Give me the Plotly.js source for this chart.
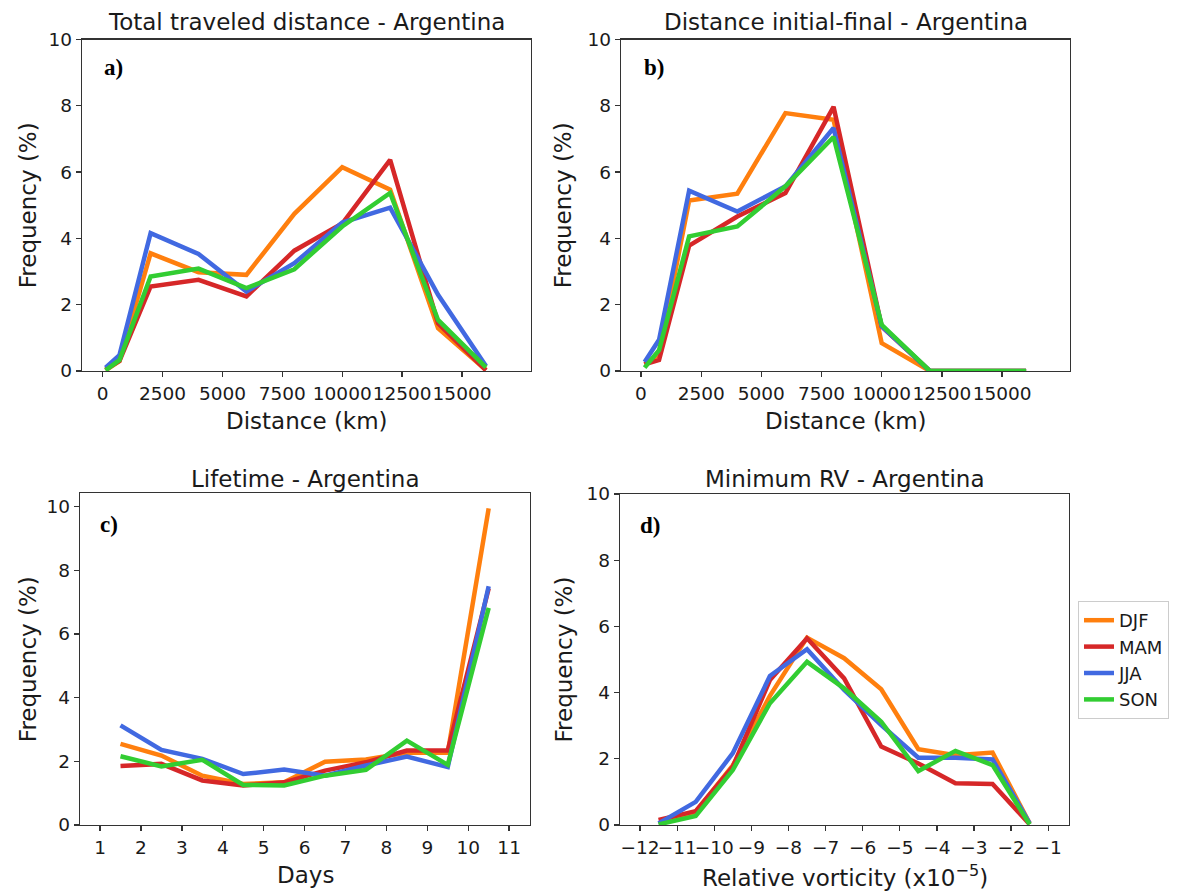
<!DOCTYPE html>
<html>
<head>
<meta charset="utf-8">
<script src="https://cdn.plot.ly/plotly-3.0.1.min.js"></script>
<style>html,body{margin:0;padding:0;background:#fff;}#chart{width:1197px;height:894px;}</style>
</head>
<body>
<div id="chart"></div>
<script>
// ---------- data ----------
const seasons = ["DJF", "MAM", "JJA", "SON"];
const seasonColors = ["#ff7f0e", "#d62728", "#4169e1", "#32cd32"];

// a) Total traveled distance (km)
const distTotalX = [120, 700, 2000, 4000, 6000, 8000, 10000, 12000, 14000, 16000];
const distTotalDJF = [0.02, 0.30, 3.55, 2.98, 2.90, 4.74, 6.15, 5.47, 1.29, 0.03];
const distTotalMAM = [0.05, 0.30, 2.55, 2.75, 2.25, 3.63, 4.45, 6.37, 1.44, 0.02];
const distTotalJJA = [0.10, 0.48, 4.16, 3.53, 2.40, 3.25, 4.48, 4.93, 2.30, 0.15];
const distTotalSON = [0.02, 0.33, 2.85, 3.09, 2.50, 3.07, 4.36, 5.37, 1.54, 0.11];

// b) Distance initial-final (km)
const distIFX = [150, 750, 2000, 4000, 6000, 8000, 10000, 12000, 14000, 16000];
const distIFDJF = [0.20, 0.50, 5.14, 5.35, 7.78, 7.58, 0.84, 0.00, 0.00, 0.00];
const distIFMAM = [0.20, 0.33, 3.78, 4.66, 5.37, 7.97, 1.34, 0.00, 0.00, 0.00];
const distIFJJA = [0.27, 0.94, 5.44, 4.81, 5.57, 7.33, 1.35, 0.00, 0.00, 0.00];
const distIFSON = [0.10, 0.63, 4.06, 4.36, 5.57, 7.06, 1.39, 0.00, 0.00, 0.00];

// c) Lifetime (days)
const lifeX = [1.5, 2.5, 3.5, 4.5, 5.5, 6.5, 7.5, 8.5, 9.5, 10.5];
const lifeDJF = [2.55, 2.18, 1.55, 1.29, 1.34, 1.99, 2.06, 2.27, 2.27, 9.95];
const lifeMAM = [1.85, 1.92, 1.40, 1.24, 1.34, 1.71, 1.97, 2.34, 2.34, 7.43];
const lifeJJA = [3.13, 2.36, 2.08, 1.60, 1.74, 1.55, 1.87, 2.15, 1.82, 7.50];
const lifeSON = [2.16, 1.84, 2.05, 1.26, 1.24, 1.55, 1.73, 2.65, 1.89, 6.82];

// d) Minimum relative vorticity (x10^-5)
const rvX = [-11.5, -10.5, -9.5, -8.5, -7.5, -6.5, -5.5, -4.5, -3.5, -2.5, -1.5];
const rvDJF = [0.05, 0.40, 1.80, 3.90, 5.66, 5.04, 4.10, 2.29, 2.11, 2.19, 0.05];
const rvMAM = [0.15, 0.42, 1.76, 4.38, 5.64, 4.43, 2.37, 1.86, 1.26, 1.24, 0.02];
const rvJJA = [0.05, 0.70, 2.17, 4.50, 5.31, 4.08, 3.02, 2.03, 2.03, 1.98, 0.05];
const rvSON = [0.02, 0.27, 1.66, 3.68, 4.93, 4.13, 3.12, 1.63, 2.24, 1.81, 0.02];

// ticks
const distTickVals = [0, 2500, 5000, 7500, 10000, 12500, 15000];
const distTickText = ["0", "2500", "5000", "7500", "10000", "12500", "15000"];
const dayTickVals = [1, 2, 3, 4, 5, 6, 7, 8, 9, 10, 11];
const dayTickText = ["1", "2", "3", "4", "5", "6", "7", "8", "9", "10", "11"];
const rvTickVals = [-12, -11, -10, -9, -8, -7, -6, -5, -4, -3, -2, -1];
const rvTickText = ["\u221212", "\u221211", "\u221210", "\u22129", "\u22128", "\u22127", "\u22126", "\u22125", "\u22124", "\u22123", "\u22122", "\u22121"];
const freqTickVals = [0, 2, 4, 6, 8, 10];
const freqTickText = ["0", "2", "4", "6", "8", "10"];

// ---------- build ----------
const W = 1197, H = 894;
const px = v => v / W;
const py = v => 1 - v / H;

const panels = [
  {x: distTotalX, ys: [distTotalDJF, distTotalMAM, distTotalJJA, distTotalSON], xa: "x", ya: "y"},
  {x: distIFX, ys: [distIFDJF, distIFMAM, distIFJJA, distIFSON], xa: "x2", ya: "y2"},
  {x: lifeX, ys: [lifeDJF, lifeMAM, lifeJJA, lifeSON], xa: "x3", ya: "y3"},
  {x: rvX, ys: [rvDJF, rvMAM, rvJJA, rvSON], xa: "x4", ya: "y4"}
];

const traces = [];
panels.forEach((p, pi) => {
  p.ys.forEach((y, si) => {
    traces.push({
      type: "scatter", mode: "lines",
      x: p.x, y: y, xaxis: p.xa, yaxis: p.ya,
      name: seasons[si], showlegend: pi === 3,
      line: {color: seasonColors[si], width: 4.5},
      hoverinfo: "skip"
    });
  });
});

const FONT = "DejaVu Sans, Verdana, sans-serif";
const TXT = "#1a1a1a";
const axBase = {
  showline: true, mirror: true, linecolor: "#333", linewidth: 1.3,
  ticks: "outside", ticklen: 5, tickwidth: 1.3, tickcolor: "#333",
  showgrid: false, zeroline: false, tickmode: "array", tickangle: 0,
  tickfont: {family: FONT, size: 18.5, color: TXT}, fixedrange: true
};
const mk = (o) => Object.assign({}, axBase, o);

const layout = {
  width: W, height: H,
  margin: {l: 0, r: 0, t: 0, b: 0},
  paper_bgcolor: "#fff", plot_bgcolor: "#fff",
  font: {family: FONT, color: TXT},
  xaxis:  mk({domain: [px(82), px(531)], range: [-864, 17880], tickvals: distTickVals, ticktext: distTickText, anchor: "y"}),
  yaxis:  mk({domain: [py(371), py(39.5)], range: [0, 10], tickvals: freqTickVals, ticktext: freqTickText, anchor: "x"}),
  xaxis2: mk({domain: [px(621), px(1070)], range: [-831, 17823], tickvals: distTickVals, ticktext: distTickText, anchor: "y2"}),
  yaxis2: mk({domain: [py(371), py(39.5)], range: [0, 10], tickvals: freqTickVals, ticktext: freqTickText, anchor: "x2"}),
  xaxis3: mk({domain: [px(80), px(530)], range: [0.51, 11.51], tickvals: dayTickVals, ticktext: dayTickText, anchor: "y3"}),
  yaxis3: mk({domain: [py(825), py(493.3)], range: [0, 10.42], tickvals: freqTickVals, ticktext: freqTickText, anchor: "x3"}),
  xaxis4: mk({domain: [px(620), px(1069)], range: [-12.54, -0.44], tickvals: rvTickVals, ticktext: rvTickText, anchor: "y4"}),
  yaxis4: mk({domain: [py(825), py(494)], range: [0, 10], tickvals: freqTickVals, ticktext: freqTickText, anchor: "x4"}),
  showlegend: true,
  legend: {
    x: px(1078), y: py(601), xanchor: "left", yanchor: "top",
    bgcolor: "#fff", bordercolor: "#cccccc", borderwidth: 1,
    font: {family: FONT, size: 18, color: TXT}, tracegroupgap: 0
  },
  annotations: []
};

const titles = [
  {t: "Total traveled distance - Argentina", x: (82 + 531) / 2, y: 22},
  {t: "Distance initial-final - Argentina", x: (621 + 1070) / 2, y: 22},
  {t: "Lifetime - Argentina", x: (80 + 530) / 2, y: 479},
  {t: "Minimum RV - Argentina", x: (620 + 1069) / 2, y: 479}
];
titles.forEach(o => layout.annotations.push({
  text: o.t, x: px(o.x), y: py(o.y), xref: "paper", yref: "paper",
  xanchor: "center", yanchor: "middle", showarrow: false,
  font: {family: FONT, size: 23, color: TXT}
}));

const xTitles = [
  {t: "Distance (km)", x: (82 + 531) / 2, y: 421},
  {t: "Distance (km)", x: (621 + 1070) / 2, y: 421},
  {t: "Days", x: (80 + 530) / 2, y: 875},
  {t: "Relative vorticity (x10<sup>\u22125</sup>)", x: (620 + 1069) / 2, y: 876}
];
xTitles.forEach(o => layout.annotations.push({
  text: o.t, x: px(o.x), y: py(o.y), xref: "paper", yref: "paper",
  xanchor: "center", yanchor: "middle", showarrow: false,
  font: {family: FONT, size: 23, color: TXT}
}));

const yTitles = [
  {x: 28, y: (39.5 + 371) / 2},
  {x: 563, y: (39.5 + 371) / 2},
  {x: 28, y: (493.3 + 825) / 2},
  {x: 563, y: (494 + 825) / 2}
];
yTitles.forEach(o => layout.annotations.push({
  text: "Frequency (%)", x: px(o.x), y: py(o.y), xref: "paper", yref: "paper",
  xanchor: "center", yanchor: "middle", showarrow: false, textangle: -90,
  font: {family: FONT, size: 23, color: TXT}
}));

const letters = [
  {t: "a)", x: 102, y: 67},
  {t: "b)", x: 642, y: 67},
  {t: "c)", x: 98, y: 524},
  {t: "d)", x: 638, y: 525}
];
letters.forEach(o => layout.annotations.push({
  text: "<b>" + o.t + "</b>", x: px(o.x), y: py(o.y), xref: "paper", yref: "paper",
  xanchor: "left", yanchor: "middle", showarrow: false,
  font: {family: "Liberation Serif, Times New Roman, serif", size: 23, color: "#000"}
}));

Plotly.newPlot("chart", traces, layout, {displayModeBar: false, staticPlot: true});
</script>
</body>
</html>
